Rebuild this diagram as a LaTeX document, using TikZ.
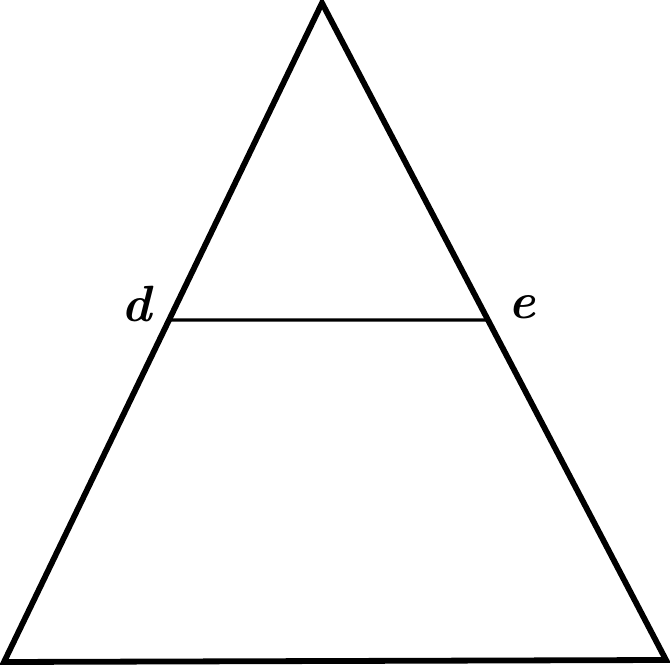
\documentclass[tikz,border=0pt]{standalone}
\usepackage{amsmath,amsfonts,amssymb}
\usepackage{tikz}
\usetikzlibrary{positioning,calc}
\begin{document}
\begin{tikzpicture}
	\tikzstyle{side}=[line width=3.3pt, line join=miter, line cap=round];
	\tikzstyle{chord}=[line width=1.9pt];
	\tikzstyle{lnode}=[font=\fontsize{29}{32}\selectfont\bfseries\itshape];

	\useasboundingbox (0,0) rectangle (13.4,13.34);

	\coordinate (top) at (6.44,13.28);
	\coordinate (bl) at (0.08,0.10);
	\coordinate (br) at (13.32,0.14);
	\coordinate (pd) at ($(top)!0.481!(bl)$);
	\coordinate (pe) at ($(top)!0.4825!(br)$);

	\node[lnode] (d) at (2.74,7.26) {d};
	\node[lnode] (e) at (10.44,7.20) {e};

	\draw[side] (top) -- (bl) -- (br) -- cycle;
	\draw[chord] (pd) -- (pe);

\end{tikzpicture}
\end{document}
